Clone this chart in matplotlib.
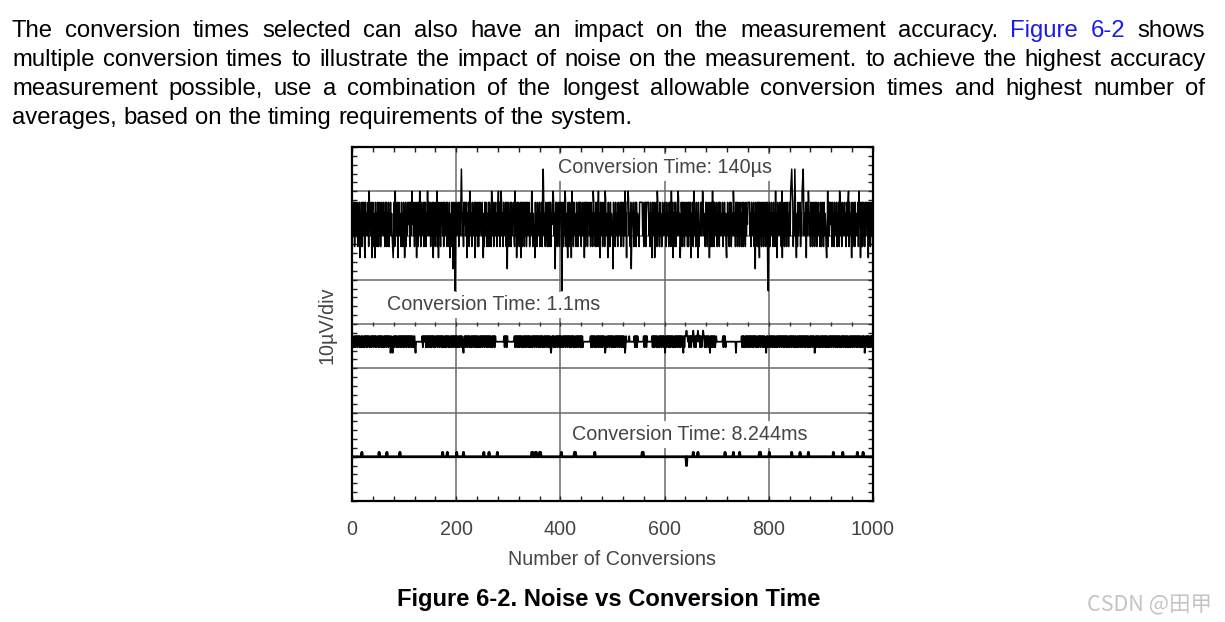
import numpy as np
import matplotlib
matplotlib.use("Agg")
from matplotlib import pyplot as plt


### OUTPUT SIZE (pixels at dpi 100)
W = 1225
H = 622

# ---- chart data ----
# top trace, 140us: one hex digit per conversion, level = 47.5uV + 2.5uV * code
TOP_CODES = """
9575848657 8475836584 8758438576 5849675837 8476385748
7485748576 8574868475 8476857543 5849675837 8576485748
6358475868 7485796857 4857386485 9748576848 5847596857
8475863857 4859473857 4867584857 6848574835 7485268406
8576848758 b857486857 8375849657 4857683857 8474858675
8537485864 7584857498 5847685748 7958479857 4857684827
8475848576 8549573848 5748378485 7485846857 8475698475
6385748576 8475849b85 7485748548 5847689857 2858475848
7850684859 8475386485 7395848576 4857485868 4758573848
5847685748 5749857485 4859473857 8475849857 6385748576
6285748576 4857684857 8475957388 9857482576 8475848576
6488888857 4858478888 5748573857 8375849857 4857448576
8574857648 5849683748 5847589857 3587485846 5857484857
8375849857 4857384657 8579857648 5847683748 7495848576
8475848576 5847685743 6857485846 7598574858 4857485748
7485748576 8888574857 6847285748 8538574857 4857485810
6847585748 5749573857 6858493857 4857485748 859ab98475
b853748576 84759ab857 5838579857 4857485748 5847685748
7485748576 4359485868 7485748575 8475849857 4857685748
7589485753 8475848576 5849683748 4857485868 7385748576
"""

# middle trace, 1.1ms: level = 36uV + 1.25uV * (code - 3)
MID_CODES = """
4242342434 2434243242 4324243424 2434234243 4243424234
4242434243 2424342434 2434124213 4243424234 2434243424
2434243424 4243424324 4213333333 3333342434 3424243424
4242434242 2434243424 3424243242 4243424234 2434243424
4242342434 2432134243 4243424234 2434243424 4242342434
2434243424 4243424234 2434243333 3333333333 3342434243
3333333333 3342434242 4243424234 2434243424 4242342434
2434243424 4243424234 2434243424 4212434243 2434243424
4242342434 2434243424 4243424234 2434243424 4242333333
3333333342 4243424234 2434243424 4243421243 2434243424
4242342434 2434243424 4243124333 3343333333 3342434243
3333333333 4243424333 3333334242 4243424234 2434243424
3142434242 4243424234 2434243424 4243421424 4454434243
4243454234 2434543424 4234544234 2434243142 4243424234
3333333333 3342434233 3333333333 3333333133 3333333342
4242342434 2434243424 4243424234 2434243424 4242314243
2434243424 4242342434 2434243424 4243424234 2434243424
4242342434 2434243424 4243424234 2434243412 4243424234
2434243424 4242342434 2434243424 4243424234 2434243424
4242342434 2434243424 4243424234 2434124342 4242342434
"""

# bottom trace, 8.244ms: flat at 10uV with a few one-step blips
BOTTOM_BASE_UV = 10.0
BOTTOM_BLIP_START = [19, 52, 67, 92, 174, 183, 201, 214, 253, 263, 279, 345, 352,
                     360, 402, 427, 466, 557, 642, 655, 664, 716, 732, 744, 782,
                     801, 844, 860, 876, 924, 942, 970, 981]
BOTTOM_BLIP_LEN = [1, 1, 1, 1, 1, 1, 1, 1, 1, 1, 1, 3, 3,
                   3, 1, 3, 1, 3, 1, 1, 1, 1, 1, 1, 3,
                   1, 1, 1, 1, 1, 1, 1, 1]
BOTTOM_BLIP_STEP = [1, 1, 1, 1, 1, 1, 1, 1, 1, 1, 1, 1, 1,
                    1, 1, 1, 1, 1, -2, 1, 1, 1, 1, 1, 1,
                    1, 1, 1, 1, 1, 1, 1, 1]

LABELS = ["Conversion Time: 140\u00b5s", "Conversion Time: 1.1ms", "Conversion Time: 8.244ms"]
LABEL_X = [600, 272, 649]
LABEL_Y = [75.3, 44.3, 15.1]

X_TICKS = [0, 200, 400, 600, 800, 1000]

PARAGRAPH = [
    "The conversion times selected can also have an impact on the measurement accuracy. Figure 6-2 shows",
    "multiple conversion times to illustrate the impact of noise on the measurement. to achieve the highest accuracy",
    "measurement possible, use a combination of the longest allowable conversion times and highest number of",
    "averages, based on the timing requirements of the system.",
]
LINK_WORDS = ["Figure", "6-2"]

top_uv = 47.5 + 2.5 * np.array([int(c, 16) for c in "".join(TOP_CODES.split())])
mid_uv = 36.0 + 1.25 * (np.array([int(c) for c in "".join(MID_CODES.split())]) - 3)
n_conv = len(top_uv)
bottom_uv = np.full(n_conv, BOTTOM_BASE_UV)
for s, l, d in zip(BOTTOM_BLIP_START, BOTTOM_BLIP_LEN, BOTTOM_BLIP_STEP):
    bottom_uv[s:s + l] += d


CHART_FONT = "Liberation Sans"
TXT_GRAY = "#454545"

fig = plt.figure(figsize=(W / 100, H / 100), dpi=100)
fig.patch.set_facecolor("white")

# axes box in pixels: left 352, right 873, top 147, bottom 501
ax = fig.add_axes([352 / W, 1 - 501 / H, (873 - 352) / W, (501 - 147) / H])
ax.set_xlim(0, 1000)
ax.set_ylim(0, 80)

ax.plot(np.arange(n_conv), top_uv, color="black", lw=1.1, zorder=4)
ax.plot(np.arange(len(mid_uv)), mid_uv, color="black", lw=1.3, zorder=4)
ax.plot(np.arange(n_conv), bottom_uv, color="black", lw=2.0, zorder=4)

# graticule
ax.set_xticks(X_TICKS)
ax.set_xticks(np.arange(0, 1001, 40), minor=True)
ax.set_yticks(np.arange(0, 81, 10))
ax.set_yticks(np.arange(0, 81, 2), minor=True)
ax.set_axisbelow(True)
ax.grid(which="major", color="#6a6a6a", lw=1.1)
ax.tick_params(which="both", direction="in", top=True, right=True,
               length=3.5, width=1.0, color="#222222")
ax.tick_params(axis="y", which="both", labelleft=False)
ax.tick_params(axis="x", which="major", pad=13.5, labelsize=14.2, labelcolor=TXT_GRAY)
for lab in ax.get_xticklabels():
    lab.set_family(CHART_FONT)
cx = np.arange(40, 1000, 40)
ax.plot(cx, np.full(len(cx), 40.0), ls="none", marker="|", ms=3.5, mew=1.0,
        color="#333333", zorder=1)
for sp in ax.spines.values():
    sp.set_linewidth(1.6)
    sp.set_color("black")

for s, x, y in zip(LABELS, LABEL_X, LABEL_Y):
    ax.text(x, y, s, ha="center", va="center", fontsize=14.2, family=CHART_FONT,
            color=TXT_GRAY, zorder=3,
            bbox=dict(boxstyle="square,pad=0.2", fc="white", ec="none"))

ax.set_xlabel("Number of Conversions", fontsize=14.2, family=CHART_FONT, color=TXT_GRAY)
ax.xaxis.set_label_coords(0.499, -0.166)
ax.xaxis.label.set_va("center")
ax.set_ylabel("10\u00b5V/div", fontsize=14.2, family=CHART_FONT, color=TXT_GRAY)
ax.yaxis.set_label_coords(-0.048, 0.497)
ax.yaxis.label.set_va("center")

# paragraph above the chart, justified like the document
renderer = fig.canvas.get_renderer()
PARA_SIZE = 17.2


def text_width(s, **kw):
    t = fig.text(0, 0, s, fontsize=PARA_SIZE, family=CHART_FONT, **kw)
    w = t.get_window_extent(renderer).width
    t.remove()
    return w


space = text_width("x x") - text_width("xx")
baselines = [37, 66, 95, 124]
for k, line in enumerate(PARAGRAPH):
    words = line.split()
    texts = []
    for w in words:
        c = "#1a1aee" if (k == 0 and w in LINK_WORDS) else "black"
        texts.append(fig.text(0, 0, w, fontsize=PARA_SIZE, family=CHART_FONT,
                              color=c, va="baseline", ha="left"))
    widths = [t.get_window_extent(renderer).width for t in texts]
    if k < len(PARAGRAPH) - 1:
        gap = (1205 - 12 - sum(widths)) / (len(words) - 1)
    else:
        gap = space
    x = 12
    for t, w in zip(texts, widths):
        t.set_position((x / W, 1 - baselines[k] / H))
        x += w + gap

fig.text(609 / W, 1 - 606 / H, "Figure 6-2. Noise vs Conversion Time", ha="center",
         va="baseline", fontsize=17.1, family=CHART_FONT, weight="bold", color="black")

fig.text(1087 / W, 1 - 611 / H, "CSDN @田甲", ha="left", va="baseline", fontsize=15.5,
         family=["Noto Sans CJK SC", "DejaVu Sans"], color="#c4c4c4")

fig.savefig("out.png", dpi=100)
